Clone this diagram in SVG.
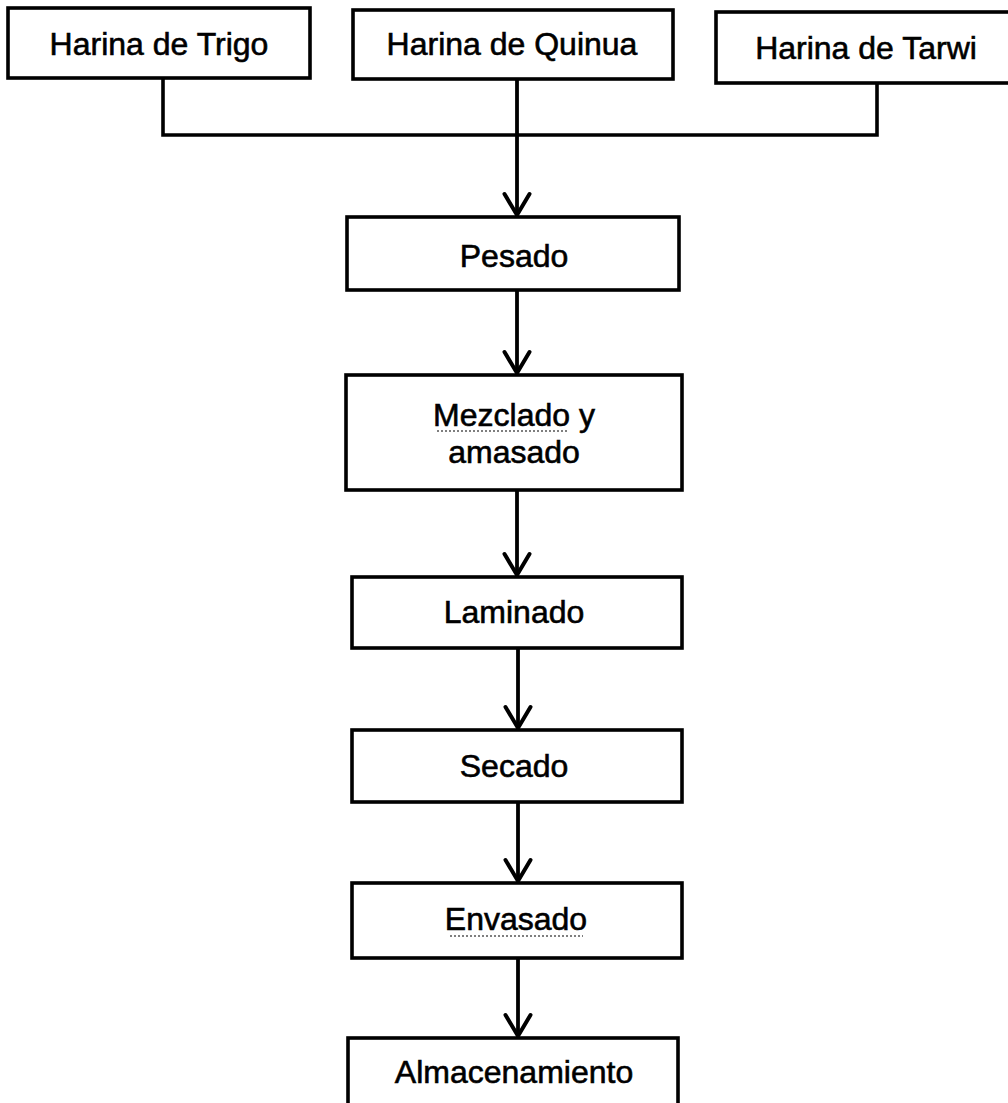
<svg xmlns="http://www.w3.org/2000/svg" width="1008" height="1103" viewBox="0 0 1008 1103">
  <style>
    .box { fill: #ffffff; stroke: #000000; stroke-width: 3.6; }
    .label { font-family: "Liberation Sans", Arial, sans-serif; font-size: 32px; fill: #000000; stroke: #000000; stroke-width: 0.6; text-anchor: middle; }
    .wire { fill: none; stroke: #000000; stroke-width: 3.6; }
    .flow { fill: none; stroke: #000000; stroke-width: 3.8; marker-end: url(#vhead); }
    .squiggle { fill: none; stroke: #555555; stroke-width: 1.5; stroke-dasharray: 2 2; }
  </style>
  <defs>
    <!-- open V arrowhead -->
    <marker id="vhead" markerUnits="userSpaceOnUse" viewBox="-24 -15 28 30" refX="0" refY="0" markerWidth="28" markerHeight="30" orient="auto" overflow="visible">
      <path d="M -21 -12.5 L 0 0 L -21 12.5" fill="none" stroke="#000000" stroke-width="4" stroke-linejoin="round" stroke-linecap="round"/>
    </marker>
  </defs>

  <rect width="1008" height="1103" fill="#ffffff"/>

  <!-- connectors -->
  <g id="connectors">
    <path class="wire" d="M 163 78 V 135 H 877 V 83"/>
    <path class="flow" d="M 517 79 V 215"/>
    <path class="flow" d="M 517 290 V 373"/>
    <path class="flow" d="M 517 490 V 575"/>
    <path class="flow" d="M 518 648 V 728"/>
    <path class="flow" d="M 518 802 V 881"/>
    <path class="flow" d="M 518 958 V 1036"/>
  </g>

  <!-- raw materials -->
  <g id="harina-trigo">
    <rect class="box" x="8" y="8" width="302" height="70"/>
    <text class="label" x="159" y="55">Harina de Trigo</text>
  </g>
  <g id="harina-quinua">
    <rect class="box" x="353" y="10" width="320" height="69"/>
    <text class="label" x="512" y="55">Harina de Quinua</text>
  </g>
  <g id="harina-tarwi">
    <rect class="box" x="716" y="12" width="310" height="71"/>
    <text class="label" x="866" y="59">Harina de Tarwi</text>
  </g>

  <!-- process steps -->
  <g id="pesado">
    <rect class="box" x="347" y="217" width="332" height="73"/>
    <text class="label" x="514" y="267">Pesado</text>
  </g>
  <g id="mezclado">
    <rect class="box" x="346" y="375" width="336" height="115"/>
    <text class="label" x="514" y="426">Mezclado y</text>
    <text class="label" x="514" y="463">amasado</text>
    <path class="squiggle" d="M 437 431 H 567"/>
  </g>
  <g id="laminado">
    <rect class="box" x="352" y="577" width="330" height="71"/>
    <text class="label" x="514" y="623">Laminado</text>
  </g>
  <g id="secado">
    <rect class="box" x="352" y="730" width="330" height="72"/>
    <text class="label" x="514" y="777">Secado</text>
  </g>
  <g id="envasado">
    <rect class="box" x="352" y="883" width="330" height="75"/>
    <text class="label" x="516" y="930">Envasado</text>
    <path class="squiggle" d="M 450 936 H 583"/>
  </g>
  <g id="almacenamiento">
    <rect class="box" x="348" y="1038" width="330" height="80"/>
    <text class="label" x="514" y="1083">Almacenamiento</text>
  </g>
</svg>
